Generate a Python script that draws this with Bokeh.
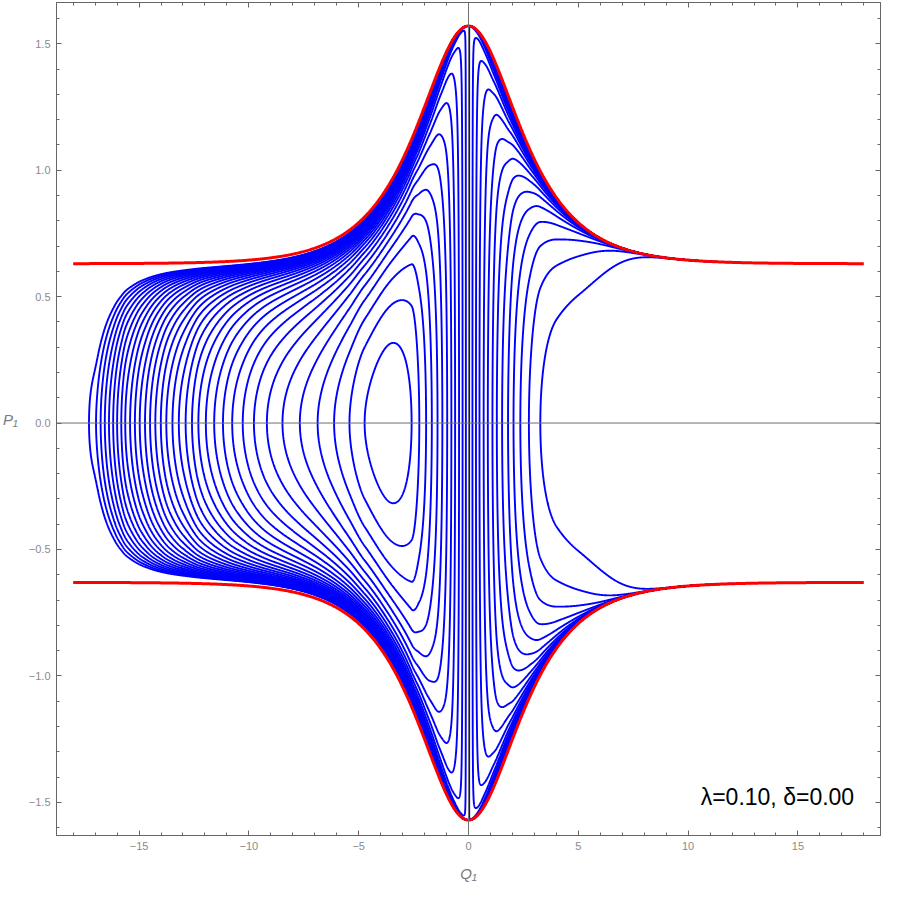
import numpy as np
import contourpy
from bokeh.plotting import figure
from bokeh.models import FixedTicker, LinearAxis, Label, Span
from bokeh.embed import file_html
from bokeh.resources import INLINE

# ---------------- values ----------------
lam = 0.10
delta = 0.00
levels = list(range(1, 36))
# Q1 where each blue contour crosses P1 = 0 on the left (level 35 ... level 1)
left_crossings = [-17.28, -16.96, -16.75, -16.56, -16.37, -16.18, -16.00, -15.81, -15.63,
                  -15.41, -15.19, -14.97, -14.73, -14.50, -14.26, -14.01, -13.76, -13.48,
                  -13.19, -12.88, -12.59, -12.30, -11.96, -11.58, -11.18, -10.76, -10.28,
                  -9.77, -9.18, -8.47, -7.68, -6.87, -6.12, -5.42, -4.73]
# Q1 where the contours cross P1 = 0 on the right (level 1 ... level 26)
right_crossings = [-2.59, -2.24, -1.93, -1.67, -1.41, -1.19, -0.97, -0.78, -0.61, -0.43,
                   -0.27, -0.12, 0.03, 0.18, 0.34, 0.50, 0.69, 0.88, 1.09, 1.29, 1.53,
                   1.80, 2.05, 2.36, 2.75, 3.27]
well_centre = [-3.62, 0.25]          # (Q1, level) at the centre of the innermost orbit
right_tail_q = [4.0, 5.0, 7.0, 19.0]
right_tail_level = [26.55, 26.78, 26.9, 26.98]
left_tail = [-19.0, 46.3]
# red separatrix  P1 = plateau + bump * sech(Q1 / width)
sep_plateau = 0.63
sep_bump = 0.94
sep_width = 2.05
# shape of the orbits towards the separatrix
kin_power = 0.45
mL, qL, nL = 7.0, 2.1, 1.85
mR, qR, nR, LR = 5.3, 1.72, 1.85, 4.47

x_ticks = [-15, -10, -5, 0, 5, 10, 15]
y_ticks = [-1.5, -1.0, -0.5, 0.0, 0.5, 1.0, 1.5]
x_minor = list(range(-18, 19))
y_minor = [round(v * 0.1, 1) for v in range(-16, 17)]


def pchip(xk, yk, x):
    xk = np.asarray(xk, float)
    yk = np.asarray(yk, float)
    h = np.diff(xk)
    d = np.diff(yk) / h
    m = np.zeros_like(yk)
    for k in range(1, len(xk) - 1):
        if d[k - 1] * d[k] > 0:
            w1 = 2 * h[k] + h[k - 1]
            w2 = h[k] + 2 * h[k - 1]
            m[k] = (w1 + w2) / (w1 / d[k - 1] + w2 / d[k])
    m[0] = d[0]
    m[-1] = d[-1]
    idx = np.clip(np.searchsorted(xk, x) - 1, 0, len(h) - 1)
    t = (x - xk[idx]) / h[idx]
    h00 = 2 * t**3 - 3 * t**2 + 1
    h10 = t**3 - 2 * t**2 + t
    h01 = -2 * t**3 + 3 * t**2
    h11 = t**3 - t**2
    return h00 * yk[idx] + h10 * h[idx] * m[idx] + h01 * yk[idx + 1] + h11 * h[idx] * m[idx + 1]


qk = [left_tail[0]] + left_crossings + [well_centre[0]] + right_crossings + right_tail_q
vk = [left_tail[1]] + list(range(35, 0, -1)) + [well_centre[1]] + list(range(1, 27)) + right_tail_level


def sep(q):
    return sep_plateau + sep_bump / np.cosh(q / sep_width)


def coupling(q):
    aq = np.abs(q)
    left = mL * (1 - np.exp(-(aq / qL) ** nL))
    right = -mR * (1 - np.exp(-(aq / qR) ** nR)) * np.exp(-(q / LR) ** 2)
    return np.where(q < 0, left, right)


Q = np.linspace(-18, 18, 2401)
W = np.linspace(-7.0, 7.0, 1401)
V1 = pchip(qk, vk, Q)
M1 = coupling(Q)
T1 = np.tanh(W) ** 2 * np.cosh(W) ** (2 * kin_power)
H = V1[None, :] + M1[None, :] * T1[:, None]

cg = contourpy.contour_generator(Q, W, H, line_type="Separate")
xs, ys = [], []
for lev in levels:
    for seg in cg.lines(lev):
        if len(seg) < 2:
            continue
        q = seg[:, 0]
        xs.append(q)
        ys.append(np.tanh(seg[:, 1]) * sep(q))

p = figure(width=884, height=884, x_range=(-18.76, 18.76), y_range=(-1.631, 1.663),
           output_backend="svg", toolbar_location=None,
           min_border_left=40, min_border_right=4, min_border_top=2, min_border_bottom=49)
p.background_fill_color = "white"
p.border_fill_color = "white"
p.outline_line_color = "#666666"
p.xgrid.visible = False
p.ygrid.visible = False

p.multi_line(xs, ys, line_color="#0000FF", line_width=1.9)
qr = np.linspace(-18, 18, 901)
p.line(qr, sep(qr), line_color="#FF0000", line_width=3)
p.line(qr, -sep(qr), line_color="#FF0000", line_width=3)

p.add_layout(Span(location=0, dimension="width", line_color="#707070", line_width=1))
p.add_layout(Span(location=0, dimension="height", line_color="#707070", line_width=1))


def fmt(v, nd):
    s = f"{abs(v):.{nd}f}"
    return ("\u2212" + s) if v < 0 else s


x_over = {t: fmt(t, 0) for t in x_ticks}
y_over = {t: fmt(t, 1) for t in y_ticks}


def style(ax, ticks, minor, over, labels=True):
    ax.ticker = FixedTicker(ticks=ticks, minor_ticks=minor)
    ax.axis_line_color = "#666666"
    ax.major_tick_line_color = "#666666"
    ax.minor_tick_line_color = "#666666"
    ax.major_tick_in = 5
    ax.major_tick_out = 0
    ax.minor_tick_in = 3
    ax.minor_tick_out = 0
    ax.major_label_overrides = over
    ax.major_label_text_font = "Liberation Sans"
    ax.major_label_text_font_size = "11px" if labels else "0px"
    ax.major_label_text_color = "#8a8a8a"
    ax.major_label_standoff = 6


style(p.xaxis[0], x_ticks, x_minor, x_over)
style(p.yaxis[0], y_ticks, y_minor, y_over)
p.xaxis[0].axis_label = "Q\u2081"
p.yaxis[0].axis_label = "P\u2081"
for ax in (p.xaxis[0], p.yaxis[0]):
    ax.axis_label_text_font = "Liberation Sans"
    ax.axis_label_text_font_style = "italic"
    ax.axis_label_text_font_size = "15px"
    ax.axis_label_text_color = "#7a7a7a"
p.xaxis[0].axis_label_standoff = 12
p.yaxis[0].axis_label_standoff = 8
try:
    p.yaxis[0].axis_label_orientation = "horizontal"
except Exception:
    pass

top = LinearAxis()
right = LinearAxis()
style(top, x_ticks, x_minor, {t: "" for t in x_ticks}, labels=False)
style(right, y_ticks, y_minor, {t: "" for t in y_ticks}, labels=False)
top.major_label_standoff = 0
right.major_label_standoff = 0
p.add_layout(top, "above")
p.add_layout(right, "right")

p.add_layout(Label(x=17.56, y=-1.48, text=f"\u03bb={lam:.2f}, \u03b4={delta:.2f}",
                   text_align="right", text_baseline="alphabetic",
                   text_font="Liberation Sans", text_font_size="23px", text_color="black"))

open("out.html", "w").write(file_html(p, INLINE))
